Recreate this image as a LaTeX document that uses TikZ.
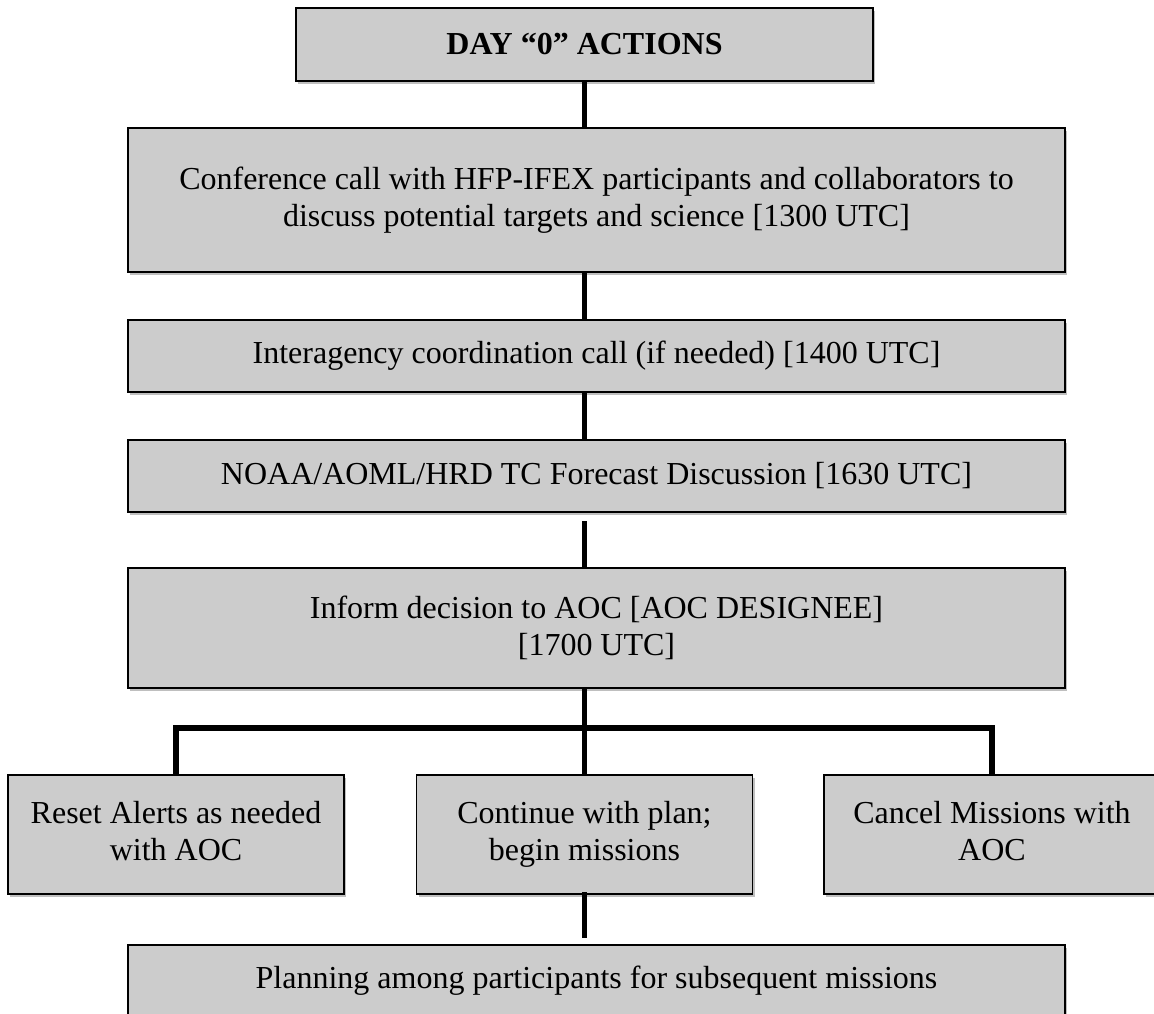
\documentclass[tikz,border=0pt]{standalone}
\usepackage{fontspec}
\setmainfont{Liberation Serif}
\usetikzlibrary{shadows,calc}
\definecolor{boxgray}{RGB}{204,204,204}
\tikzset{
  box/.style={draw=black, line width=1.3pt, fill=boxgray, inner sep=0pt, outer sep=0pt,
    align=center, font=\fontsize{32}{37}\selectfont,
    drop shadow={shadow xshift=2pt, shadow yshift=-3pt, opacity=0.25, fill=black}},
  link/.style={line width=5.5pt},
  barline/.style={line width=6pt, line join=miter},
}
\begin{document}
\begin{tikzpicture}[x=1pt, y=-1pt]
\useasboundingbox (0,0) rectangle (1154,1013);
\node[box, minimum width=577pt, minimum height=73pt] (b1) at (584.5,44.5) {\textbf{DAY “0” ACTIONS}};
\node[box, minimum width=937pt, minimum height=144pt] (b2) at (596.5,200) {Conference call with HFP-IFEX participants and collaborators to\\discuss potential targets and science [1300 UTC]};
\node[box, minimum width=937pt, minimum height=72pt] (b3) at (596.5,356) {Interagency coordination call (if needed) [1400 UTC]};
\node[box, minimum width=937pt, minimum height=72pt] (b4) at (596.5,476) {NOAA/AOML/HRD TC Forecast Discussion [1630 UTC]};
\node[box, minimum width=937pt, minimum height=120pt] (b5) at (596.5,628) {Inform decision to AOC [AOC DESIGNEE]\\{}[1700 UTC]};
\node[box, minimum width=336pt, minimum height=119pt] (l) at (176,834.5) {Reset Alerts as needed\\with AOC\vphantom{g}};
\node[box, minimum width=336pt, minimum height=119pt] (c) at (584.5,834.5) {Continue with plan;\\begin missions};
\node[box, minimum width=336pt, minimum height=119pt] (r) at (992,834.5) {Cancel Missions with\\AOC\vphantom{g}};
\node[box, minimum width=937pt, minimum height=72pt] (p) at (596.5,981) {Planning among participants for subsequent missions};
\coordinate (j) at (584.5,728);
\draw[link] (b1.south) -- (b1.south |- b2.north);
\draw[link] (b2.south -| b1.south) -- (b3.north -| b1.south);
\draw[link] (b3.south -| b1.south) -- (b4.north -| b1.south);
\draw[link] ($(b4.south -| b1.south)+(0,9)$) -- (b5.north -| b1.south);
\draw[link] (b5.south -| b1.south) -- (c.north);
\draw[barline] (l.north) -- (l.north |- j) -- (r.north |- j) -- (r.north);
\draw[link] ($(c.south)+(0,-2)$) -- ($(c.south |- p.north)+(0,-7)$);
\end{tikzpicture}
\end{document}
